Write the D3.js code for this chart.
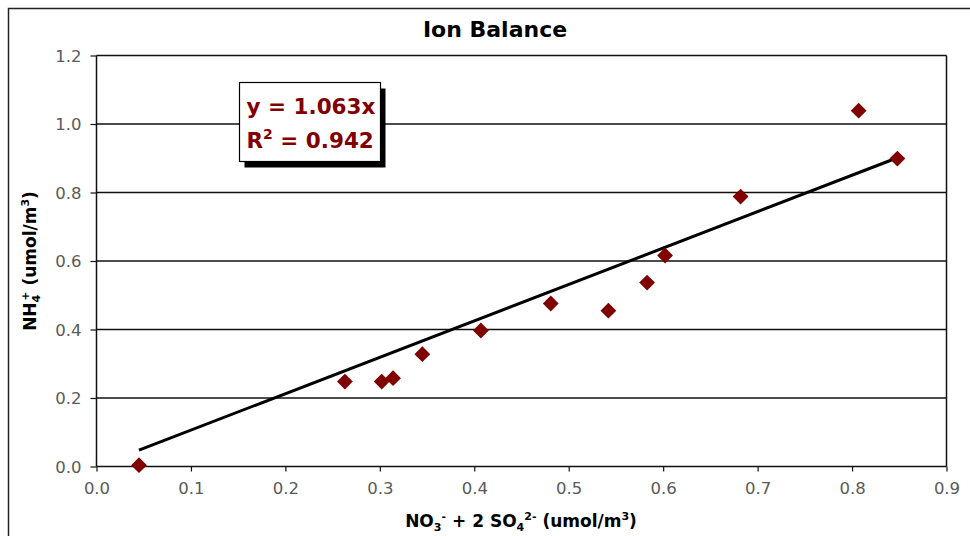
<!DOCTYPE html>
<html>
<head>
<meta charset="utf-8">
<script src="https://cdn.jsdelivr.net/npm/d3@7"></script>
<style>
  html, body { margin: 0; padding: 0; background: #fff; }
  svg { display: block; }
  text { font-family: "DejaVu Sans", Verdana, sans-serif; }
</style>
</head>
<body>
<svg id="chart" width="970" height="536"></svg>
<script>
// Measured ion concentrations per sample (umol/m3)
const anionSum = [0.045, 0.263, 0.302, 0.314, 0.345, 0.407, 0.481, 0.542, 0.583, 0.602, 0.682, 0.807, 0.848];
const ammonium = [0.004, 0.248, 0.248, 0.258, 0.328, 0.397, 0.476, 0.455, 0.537, 0.616, 0.788, 1.039, 0.899];

// Linear fit through the origin
const slope = 1.063;
const rSquared = 0.942;

const xTicks = [0.0, 0.1, 0.2, 0.3, 0.4, 0.5, 0.6, 0.7, 0.8, 0.9];
const yTicks = [0.0, 0.2, 0.4, 0.6, 0.8, 1.0, 1.2];

const svg = d3.select("#chart");
const plot = { left: 96.5, right: 946.5, top: 55.5, bottom: 466.5 };

const x = d3.scaleLinear().domain([0, 0.9]).range([plot.left, plot.right]);
const y = d3.scaleLinear().domain([0, 1.2]).range([plot.bottom, plot.top]);

// Outer chart frame (extends past the right and bottom edges)
svg.append("rect")
  .attr("x", 8.5).attr("y", 8.5)
  .attr("width", 1000).attr("height", 600)
  .attr("fill", "#fff").attr("stroke", "#222").attr("stroke-width", 1.5);

// Title
svg.append("text")
  .attr("x", 495).attr("y", 37)
  .attr("text-anchor", "middle")
  .attr("font-size", 22).attr("font-weight", "bold")
  .attr("fill", "#000")
  .text("Ion Balance");

// Horizontal gridlines
svg.append("g")
  .selectAll("line")
  .data(yTicks.filter(d => d > 0))
  .join("line")
  .attr("x1", plot.left).attr("x2", plot.right)
  .attr("y1", d => y(d)).attr("y2", d => y(d))
  .attr("stroke", "#111").attr("stroke-width", 1.4);

// Right border of plot area
svg.append("line")
  .attr("x1", plot.right).attr("x2", plot.right)
  .attr("y1", plot.top).attr("y2", plot.bottom)
  .attr("stroke", "#111").attr("stroke-width", 1.5);

// Axes
const xAxis = d3.axisBottom(x).tickValues(xTicks).tickFormat(d3.format(".1f")).tickSize(5).tickPadding(7);
const yAxis = d3.axisLeft(y).tickValues(yTicks).tickFormat(d3.format(".1f")).tickSize(6).tickPadding(9);

const gx = svg.append("g").attr("transform", `translate(0,${plot.bottom})`).call(xAxis);
const gy = svg.append("g").attr("transform", `translate(${plot.left},0)`).call(yAxis);

[gx, gy].forEach(g => {
  g.select(".domain").attr("stroke", "#111").attr("stroke-width", 1.5);
  g.selectAll(".tick line").attr("stroke", "#111").attr("stroke-width", 1.2);
  g.selectAll(".tick text")
    .attr("font-family", "\"DejaVu Sans\", Verdana, sans-serif")
    .attr("font-size", 16.5).attr("fill", "#5a5a5a");
});
gy.select(".domain").attr("d", `M0,${plot.top}V${plot.bottom}`);
gx.select(".domain").attr("d", `M${plot.left},0H${plot.right}`);
gy.selectAll(".tick text").attr("dy", "0.36em");
gx.selectAll(".tick text").attr("dy", "0.95em");

// Trendline across the measured range
const xMin = d3.min(anionSum), xMax = d3.max(anionSum);
svg.append("line")
  .attr("x1", x(xMin)).attr("y1", y(slope * xMin))
  .attr("x2", x(xMax)).attr("y2", y(slope * xMax))
  .attr("stroke", "#000").attr("stroke-width", 3);

// Sample markers (diamonds)
const diamond = d3.symbol().type(d3.symbolSquare).size(125);
svg.append("g")
  .selectAll("path")
  .data(anionSum.map((v, i) => [v, ammonium[i]]))
  .join("path")
  .attr("d", diamond)
  .attr("transform", d => `translate(${x(d[0])},${y(d[1])}) rotate(45)`)
  .attr("fill", "#800000");

// Regression label box with drop shadow
const box = { x: 239.5, y: 82.5, w: 141, h: 79 };
svg.append("rect")
  .attr("x", box.x + 5).attr("y", box.y + 6)
  .attr("width", box.w).attr("height", box.h)
  .attr("fill", "#000");
svg.append("rect")
  .attr("x", box.x).attr("y", box.y)
  .attr("width", box.w).attr("height", box.h)
  .attr("fill", "#fff").attr("stroke", "#000").attr("stroke-width", 1.2);

const eq = svg.append("g")
  .attr("font-size", 21.5).attr("font-weight", "bold").attr("fill", "#800000");
eq.append("text").attr("x", box.x + 7).attr("y", box.y + 31)
  .text(`y = ${slope.toFixed(3)}x`);
const r2 = eq.append("text").attr("x", box.x + 7).attr("y", box.y + 65);
r2.append("tspan").text("R");
r2.append("tspan").attr("font-size", 14).attr("dy", -9).text("2");
r2.append("tspan").attr("dy", 9).text(` = ${rSquared.toFixed(3)}`);

// X axis title: NO3- + 2 SO4 2- (umol/m3)
const xt = svg.append("text")
  .attr("x", 521).attr("y", 527)
  .attr("text-anchor", "middle")
  .attr("font-size", 17).attr("font-weight", "bold").attr("fill", "#000");
xt.append("tspan").text("NO");
xt.append("tspan").attr("font-size", 11).attr("dy", 4).text("3");
xt.append("tspan").attr("font-size", 11).attr("dy", -11).text("-");
xt.append("tspan").attr("dy", 7).text(" + 2 SO");
xt.append("tspan").attr("font-size", 11).attr("dy", 4).text("4");
xt.append("tspan").attr("font-size", 11).attr("dy", -11).text("2-");
xt.append("tspan").attr("dy", 7).text(" (umol/m");
xt.append("tspan").attr("font-size", 11).attr("dy", -7).text("3");
xt.append("tspan").attr("dy", 7).text(")");

// Y axis title: NH4+ (umol/m3)
const yt = svg.append("text")
  .attr("transform", `translate(36,${(plot.top + plot.bottom) / 2}) rotate(-90)`)
  .attr("text-anchor", "middle")
  .attr("font-size", 17).attr("font-weight", "bold").attr("fill", "#000");
yt.append("tspan").text("NH");
yt.append("tspan").attr("font-size", 11).attr("dy", 4).text("4");
yt.append("tspan").attr("font-size", 11).attr("dy", -11).attr("dx", -6).text("+");
yt.append("tspan").attr("dy", 7).text(" (umol/m");
yt.append("tspan").attr("font-size", 11).attr("dy", -7).text("3");
yt.append("tspan").attr("dy", 7).text(")");
</script>
</body>
</html>
